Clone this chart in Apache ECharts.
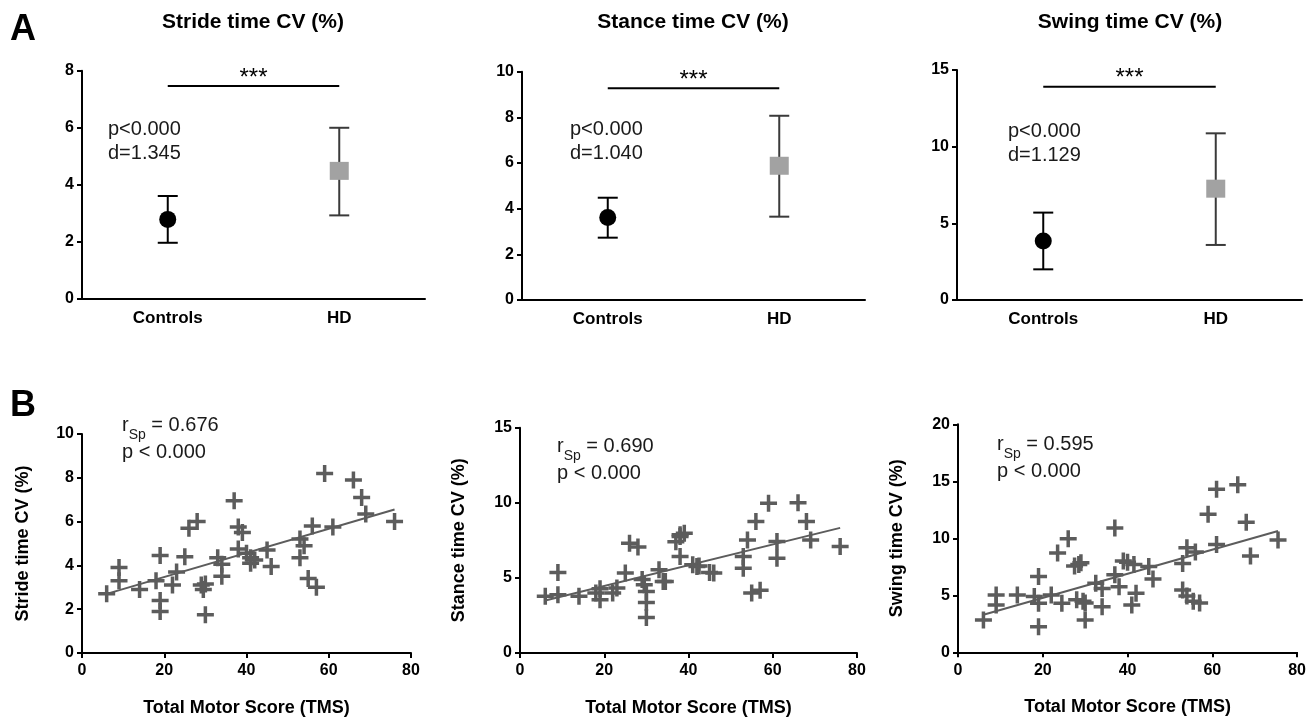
<!DOCTYPE html>
<html><head><meta charset="utf-8">
<script src="https://cdn.jsdelivr.net/npm/echarts@6/dist/echarts.min.js"></script>
<style>html,body{margin:0;padding:0;background:#fff}#c{width:1309px;height:718px}</style>
</head><body><div id="c"></div>
<script>
// ---------- data ----------
const groups = ['Controls', 'HD'];
const strideMean = [2.79, 4.49], strideLow = [1.97, 2.93], strideHigh = [3.61, 6.0];
const stanceMean = [3.61, 5.88], stanceLow = [2.73, 3.65], stanceHigh = [4.48, 8.07];
const swingMean  = [3.85, 7.26], swingLow  = [2.0, 3.59],  swingHigh  = [5.7, 10.87];
const sigLevels = [7.46, 9.27, 13.9];
const panelTitles = ['Stride time CV (%)', 'Stance time CV (%)', 'Swing time CV (%)'];
const pTexts = ['p<0.000', 'p<0.000', 'p<0.000'];
const dTexts = ['d=1.345', 'd=1.040', 'd=1.129'];
const rhoTexts = ['0.676', '0.690', '0.595'];
const scatterYNames = ['Stride time CV (%)', 'Stance time CV (%)', 'Swing time CV (%)'];
const xName = 'Total Motor Score (TMS)';

const strideTMS = [[6,2.7],[9,3.9],[9,3.3],[14,2.9],[18,3.3],[19,4.45],[19,2.4],[19,1.9],[22,3.1],[23,3.7],[25,4.4],[26,5.7],[28,6.0],[29,3.1],[30,3.15],[29.5,2.9],[30,1.75],[33,4.35],[34,4.05],[34,3.5],[37,6.95],[38,5.75],[39,5.5],[38,4.75],[40,4.55],[41,4.35],[41,4.1],[42,4.25],[45,4.7],[46,3.95],[53,5.2],[54,4.9],[53,4.35],[55,3.4],[57,3.0],[56,5.8],[59,8.2],[61,5.75],[66,7.9],[68,7.1],[69,6.35],[76,6.0]];
const stanceTMS = [[6,3.77],[9,5.36],[9,3.88],[14,3.77],[18,3.99],[19,4.28],[19,3.55],[22,3.99],[23,4.32],[25,5.32],[26,7.31],[28,7.05],[29,4.9],[29.5,4.54],[30,4.1],[30,3.37],[30,2.37],[33,5.54],[34,4.76],[34.5,4.76],[37,7.4],[38,7.87],[39,7.98],[38,7.76],[38,6.43],[41,5.87],[42,5.76],[42.5,5.8],[45,5.36],[46,5.32],[53,6.43],[53,5.65],[54,7.53],[56,8.75],[55,3.99],[57,4.17],[59,9.97],[61,7.42],[61,6.31],[66,10.0],[68,8.75],[69,7.53],[76,7.09]];
const swingTMS = [[6,2.84],[9,5.03],[9,4.15],[14,5.03],[18,4.9],[19,6.65],[19,4.3],[19,2.25],[22,5.03],[23.5,8.7],[24.5,4.3],[26,9.96],[27.5,7.56],[28.5,7.7],[29,7.85],[28,4.6],[29.5,4.47],[30,4.32],[30,2.84],[32.5,6.05],[34,5.6],[34,4.0],[37,10.9],[37,6.8],[38,5.76],[39,8.0],[40,7.9],[41.5,7.7],[41,4.15],[42,5.18],[45,7.53],[46,6.43],[53,7.79],[53,5.47],[54,9.17],[54,4.94],[56,8.79],[55.5,4.47],[57,4.32],[59,12.1],[61,14.3],[61,9.46],[66,14.7],[68,11.4],[69,8.44],[75.5,9.85]];
const strideFit = [[6,2.7],[76,6.55]];
const stanceFit = [[6,3.5],[76,8.33]];
const swingFit  = [[6,3.3],[75.5,10.64]];

const groupY = [[0,8,2],[0,10,2],[0,15,5]];
const scatterY = [[0,10,2],[0,15,5],[0,20,5]];
const tmsX = [0,80,20];

// ---------- layout / style ----------
const FONT = '"Liberation Sans", Arial, sans-serif';
const topGrids = [
  {left:82, top:70.7, width:343, height:228.3},
  {left:522, top:71.7, width:343, height:228.3},
  {left:957, top:70, width:345, height:230}
];
const botGrids = [
  {left:82, top:434, width:329, height:219},
  {left:520, top:427.7, width:337, height:225.6},
  {left:958, top:424.3, width:341, height:228}
];
const axisLine = {lineStyle:{color:'#000', width:2}};
const axisTick = {inside:false, length:5, lineStyle:{color:'#000', width:2}};
const tickLabel = {color:'#000', fontWeight:'bold', fontSize:16, fontFamily:FONT};
const PLUS = 'path://M6.75,0H10.25V6.75H17V10.25H10.25V17H6.75V10.25H0V6.75H6.75Z';

const grids = [], xAxes = [], yAxes = [], series = [];
const groupData = [
  [strideMean, strideLow, strideHigh],
  [stanceMean, stanceLow, stanceHigh],
  [swingMean, swingLow, swingHigh]
];
topGrids.forEach((g, i) => {
  grids.push(Object.assign({containLabel:false}, g));
  xAxes.push({type:'category', gridIndex:i, data:groups, boundaryGap:true,
    axisLine, axisTick:Object.assign({alignWithLabel:true}, axisTick),
    axisLabel:Object.assign({}, tickLabel, {fontSize:17, margin:11}), splitLine:{show:false}});
  yAxes.push({type:'value', gridIndex:i, min:groupY[i][0], max:groupY[i][1], interval:groupY[i][2],
    axisLine:Object.assign({show:true}, axisLine), axisTick:Object.assign({show:true}, axisTick),
    axisLabel:Object.assign({}, tickLabel, {margin:8}), splitLine:{show:false}});
  const [m, lo, hi] = groupData[i];
  // error bars
  series.push({type:'custom', xAxisIndex:i, yAxisIndex:i, z:2,
    data: groups.map((c, k) => [k, lo[k], hi[k]]),
    renderItem: (params, api) => {
      const k = api.value(0);
      const p1 = api.coord([k, api.value(1)]);
      const p2 = api.coord([k, api.value(2)]);
      const col = k === 0 ? '#000' : '#3a3a3a';
      const hw = 10;
      const st = {stroke:col, lineWidth:2};
      return {type:'group', children:[
        {type:'line', shape:{x1:p1[0], y1:p1[1], x2:p2[0], y2:p2[1]}, style:st},
        {type:'line', shape:{x1:p1[0]-hw, y1:p1[1], x2:p1[0]+hw, y2:p1[1]}, style:st},
        {type:'line', shape:{x1:p2[0]-hw, y1:p2[1], x2:p2[0]+hw, y2:p2[1]}, style:st}
      ]};
    }
  });
  // means
  series.push({type:'scatter', xAxisIndex:i, yAxisIndex:i, z:3, silent:true,
    data: groups.map((c, k) => ({value:[k, m[k]],
      symbol: k === 0 ? 'circle' : 'rect',
      symbolSize: k === 0 ? 17 : [19, 18],
      itemStyle:{color: k === 0 ? '#000' : '#a2a2a2', opacity:1}}))
  });
  // significance bar
  series.push({type:'custom', xAxisIndex:i, yAxisIndex:i, z:2,
    data:[[sigLevels[i]]],
    renderItem: (params, api) => {
      const y = api.value(0);
      const a = api.coord([0, y]), b = api.coord([1, y]);
      return {type:'group', children:[
        {type:'line', shape:{x1:a[0], y1:a[1], x2:b[0], y2:b[1]}, style:{stroke:'#000', lineWidth:2}},
        {type:'text', x:(a[0]+b[0])/2, y:a[1]+4, style:{text:'***', fontSize:24, fontFamily:FONT, fill:'#000', align:'center', verticalAlign:'bottom'}}
      ]};
    }
  });
});

const scatterData = [strideTMS, stanceTMS, swingTMS];
const fitData = [strideFit, stanceFit, swingFit];
botGrids.forEach((g, j) => {
  const i = j + 3;
  grids.push(Object.assign({containLabel:false}, g));
  xAxes.push({type:'value', gridIndex:i, min:tmsX[0], max:tmsX[1], interval:tmsX[2],
    name:xName, nameLocation:'middle', nameGap:46,
    nameTextStyle:{color:'#000', fontWeight:'bold', fontSize:18, fontFamily:FONT},
    axisLine, axisTick, axisLabel:Object.assign({}, tickLabel, {margin:10}), splitLine:{show:false}});
  yAxes.push({type:'value', gridIndex:i, min:scatterY[j][0], max:scatterY[j][1], interval:scatterY[j][2],
    name:scatterYNames[j], nameLocation:'middle', nameGap:j === 0 ? 50 : 52,
    nameTextStyle:{color:'#000', fontWeight:'bold', fontSize:18, fontFamily:FONT},
    axisLine:Object.assign({show:true}, axisLine), axisTick:Object.assign({show:true}, axisTick),
    axisLabel:Object.assign({}, tickLabel, {margin:8}), splitLine:{show:false}});
  series.push({type:'scatter', xAxisIndex:i, yAxisIndex:i, z:2, silent:true,
    symbol:PLUS, symbolSize:17, itemStyle:{color:'#5c5c5c', opacity:1},
    data: scatterData[j]});
  series.push({type:'line', xAxisIndex:i, yAxisIndex:i, z:3, silent:true,
    symbol:'none', lineStyle:{color:'#5c5c5c', width:2}, data: fitData[j]});
});

// ---------- titles & annotations ----------
const titleCenters = [253, 693, 1130];
const pdPos = [[108,117],[570,117],[1008,119]];
const rPos = [[122,415],[557,436],[997,434]];
const graphics = [
  {type:'text', left:10, top:12, style:{text:'A', fontSize:36, fontWeight:'bold', fontFamily:FONT, fill:'#000'}},
  {type:'text', left:10, top:388, style:{text:'B', fontSize:36, fontWeight:'bold', fontFamily:FONT, fill:'#000'}}
];
panelTitles.forEach((t, i) => {
  graphics.push({type:'text', x:titleCenters[i], y:22, style:{text:t, fontSize:21, fontWeight:'bold', fontFamily:FONT, fill:'#000', align:'center', verticalAlign:'middle'}});
  graphics.push({type:'text', x:pdPos[i][0], y:pdPos[i][1], style:{text:pTexts[i] + '\n' + dTexts[i], fontSize:20, lineHeight:24, fontFamily:FONT, fill:'#1a1a1a', align:'left', verticalAlign:'top'}});
  graphics.push({type:'text', x:rPos[i][0], y:rPos[i][1], style:{
    text:'{n|r}{s|Sp}{n| = ' + rhoTexts[i] + '}\n{n|p < 0.000}',
    fontFamily:FONT, fill:'#1a1a1a', align:'left', verticalAlign:'top',
    rich:{
      n:{fontSize:20, lineHeight:27, fontFamily:FONT, fill:'#1a1a1a', verticalAlign:'top'},
      s:{fontSize:14, lineHeight:14, fontFamily:FONT, fill:'#1a1a1a', verticalAlign:'bottom'}
    }}});
});

const chart = echarts.init(document.getElementById('c'), null, {renderer:'canvas'});
chart.setOption({
  animation:false,
  backgroundColor:'#fff',
  textStyle:{fontFamily:FONT},
  grid:grids, xAxis:xAxes, yAxis:yAxes, series, graphic:graphics
});
</script></body></html>
